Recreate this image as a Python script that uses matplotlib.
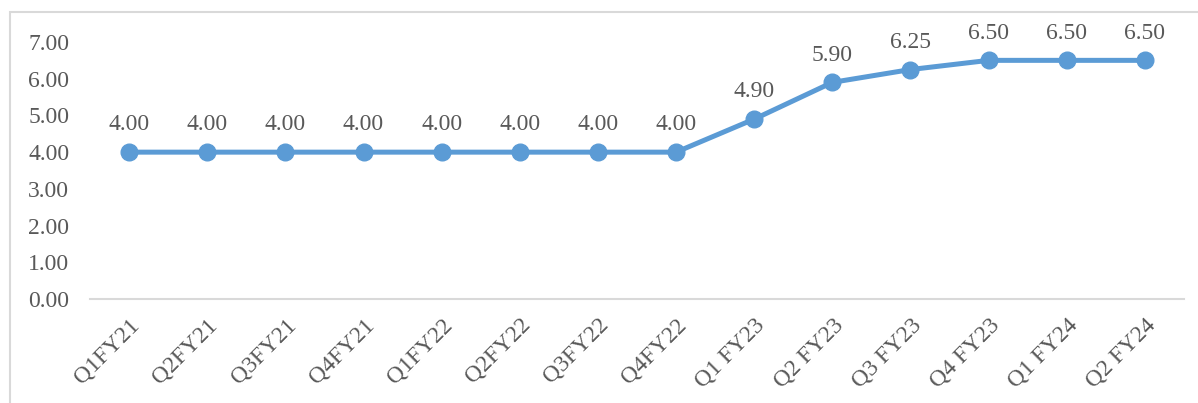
# Repo rate line chart, Excel style

import matplotlib.pyplot as plt
from matplotlib.patches import Rectangle

quarters = ['Q1FY21', 'Q2FY21', 'Q3FY21', 'Q4FY21', 'Q1FY22', 'Q2FY22', 'Q3FY22',
            'Q4FY22', 'Q1 FY23', 'Q2 FY23', 'Q3 FY23', 'Q4 FY23', 'Q1 FY24', 'Q2 FY24']
rates = [4.00, 4.00, 4.00, 4.00, 4.00, 4.00, 4.00, 4.00, 4.90, 5.90, 6.25, 6.50, 6.50, 6.50]
yticks = [0, 1, 2, 3, 4, 5, 6, 7]

plt.rcParams['font.family'] = ['Liberation Serif', 'DejaVu Serif']
text_color = '#595959'
line_color = '#5B9BD5'
fs = 17

fig = plt.figure(figsize=(11.98, 4.03), dpi=100)
ax = fig.add_axes([90 / 1198, 1 - 299 / 403, 1094 / 1198, 257 / 403])

x = list(range(len(quarters)))
ax.plot(x, rates, color=line_color, linewidth=3.6, marker='o', markersize=12,
        solid_capstyle='round')

# data labels above each point
for xi, v in zip(x, rates):
    ax.annotate(f'{v:.2f}', (xi, v), xytext=(0, 12), textcoords='offset points',
                ha='center', va='bottom', fontsize=fs, color=text_color)

ax.set_xlim(-0.5, len(quarters) - 0.5)
ax.set_ylim(0, 7)
ax.set_yticks(yticks)
ax.set_yticklabels([f'{t:.2f}' for t in yticks], fontsize=fs, color=text_color)
ax.set_xticks(x)
ax.set_xticklabels(quarters, rotation=45, ha='right', rotation_mode='anchor',
                   fontsize=fs, color=text_color)
ax.tick_params(axis='both', length=0)
ax.tick_params(axis='x', pad=11)
ax.tick_params(axis='y', pad=15)

for side in ['top', 'right', 'left']:
    ax.spines[side].set_visible(False)
ax.spines['bottom'].set_color('#D9D9D9')
ax.spines['bottom'].set_linewidth(1.5)

# chart area border (cropped on right and bottom)
fig.patches.append(Rectangle((10 / 1198, -0.1), 1.2, 1 - 12 / 403 + 0.1,
                             transform=fig.transFigure, fill=False,
                             edgecolor='#D9D9D9', linewidth=1.5))

fig.savefig('out.png', dpi=100)
